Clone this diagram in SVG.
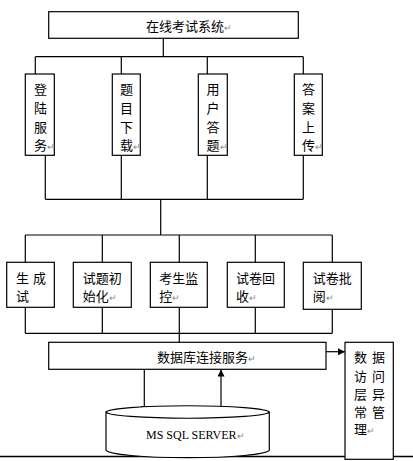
<svg xmlns="http://www.w3.org/2000/svg" width="413" height="461" viewBox="0 0 413 461">
<style>
.box{fill:#fff;stroke:#000;stroke-width:1.2}
.ln{fill:none;stroke:#000;stroke-width:1.2}
.t{font-family:"Noto Sans CJK SC","Noto Sans",sans-serif;font-size:13px;fill:#000}
.s{font-family:"Liberation Serif",serif;font-size:12px;fill:#000}
.r{fill:#888;font-size:9px}
</style>
<defs>
<marker id="ah" viewBox="0 0 10 10" refX="10" refY="5" markerWidth="7" markerHeight="7" markerUnits="userSpaceOnUse" orient="auto">
<path d="M0,0 L10,5 L0,10 Z" fill="#000"/>
</marker>
</defs>
<rect width="413" height="461" fill="#fff"/>
<g id="connectors">
<path class="ln" d="M163.3,38.3 V56.7 M35.3,56.7 H303.3 M35.3,56.7 V74 M121.3,56.7 V74 M207.3,56.7 V74 M303.3,56.7 V74"/>
<path class="ln" d="M45.3,155.3 V199.3 M121.3,155.3 V199.3 M207.3,155.3 V199.3 M303.3,155.3 V199.3 M45.3,199.3 H303.3 M160.7,199.3 V235"/>
<path class="ln" d="M25.3,235 H332.3 M25.3,235 V262.3 M102.3,235 V262.3 M179.3,235 V262.3 M255.3,235 V262.3 M332.3,235 V262.3"/>
<path class="ln" d="M25.3,307.3 V333.3 M102.3,307.3 V333.3 M179.3,307.3 V333.3 M255.3,307.3 V333.3 M332.3,309.3 V333.3 M25.3,333.3 H332.3 M179.3,333.3 V342.3"/>
<line class="ln" x1="326" y1="351.7" x2="345" y2="351.7" marker-end="url(#ah)"/>
<line class="ln" x1="144.3" y1="369.3" x2="144.3" y2="413" marker-end="url(#ah)"/>
<line class="ln" x1="221" y1="406" x2="221" y2="369.5" marker-end="url(#ah)"/>
<line x1="0" y1="456.5" x2="413" y2="456.5" stroke="#000" stroke-width="1.6"/>
</g>
<g id="top">
<rect class="box" x="48.7" y="11.7" width="249.6" height="26.6"/>
<text class="t" x="146" y="30.5">在线考试系统<tspan class="r">↵</tspan></text>
</g>
<g id="login">
<rect class="box" x="25.3" y="74" width="29" height="81.3"/>
<text class="t" x="34" y="94">登</text><text class="t" x="34" y="113">陆</text><text class="t" x="34" y="132">服</text><text class="t" x="34" y="150">务<tspan class="r">↵</tspan></text>
</g>
<g id="download">
<rect class="box" x="112.3" y="74" width="28" height="81.3"/>
<text class="t" x="120" y="94">题</text><text class="t" x="120" y="113">目</text><text class="t" x="120" y="132">下</text><text class="t" x="120" y="150">载<tspan class="r">↵</tspan></text>
</g>
<g id="answer">
<rect class="box" x="198.3" y="74" width="29" height="81.3"/>
<text class="t" x="206.5" y="94">用</text><text class="t" x="206.5" y="113">户</text><text class="t" x="206.5" y="132">答</text><text class="t" x="206.5" y="150">题<tspan class="r">↵</tspan></text>
</g>
<g id="upload">
<rect class="box" x="294.3" y="74" width="28" height="81.3"/>
<text class="t" x="302" y="94">答</text><text class="t" x="302" y="113">案</text><text class="t" x="302" y="132">上</text><text class="t" x="302" y="150">传<tspan class="r">↵</tspan></text>
</g>
<g id="gen">
<rect class="box" x="6.7" y="262.3" width="47.6" height="45"/>
<text class="t" x="16" y="282.5">生</text><text class="t" x="33" y="282.5">成</text>
<text class="t" x="16" y="301">试</text>
</g>
<g id="init">
<rect class="box" x="73.3" y="262.3" width="58" height="45"/>
<text class="t" x="82.7" y="282.5">试题初</text>
<text class="t" x="82.7" y="301">始化<tspan class="r">↵</tspan></text>
</g>
<g id="monitor">
<rect class="box" x="150.3" y="262.3" width="57" height="45"/>
<text class="t" x="159.3" y="282.5">考生监</text>
<text class="t" x="159.3" y="301">控<tspan class="r">↵</tspan></text>
</g>
<g id="collect">
<rect class="box" x="227.3" y="262.3" width="57" height="45"/>
<text class="t" x="236" y="282.5">试卷回</text>
<text class="t" x="236" y="301">收<tspan class="r">↵</tspan></text>
</g>
<g id="review">
<rect class="box" x="303.3" y="262.3" width="58" height="47"/>
<text class="t" x="312.7" y="282.5">试卷批</text>
<text class="t" x="312.7" y="301">阅<tspan class="r">↵</tspan></text>
</g>
<g id="dbconn">
<rect class="box" x="48.7" y="342.3" width="277.3" height="27"/>
<text class="t" x="157" y="361.5">数据库连接服务<tspan class="r">↵</tspan></text>
</g>
<g id="exception">
<rect class="box" x="345" y="342.3" width="48.3" height="117"/>
<text class="t" x="354" y="361.7">数</text><text class="t" x="372" y="361.7">据</text>
<text class="t" x="354" y="380.7">访</text><text class="t" x="372" y="380.7">问</text>
<text class="t" x="354" y="399">层</text><text class="t" x="372" y="399">异</text>
<text class="t" x="354" y="416.7">常</text><text class="t" x="372" y="416.7">管</text>
<text class="t" x="354" y="434">理<tspan class="r">↵</tspan></text>
</g>
<g id="db">
<path class="box" d="M106,412 V450 A81.7,8 0 0 0 269.3,450 V412 A81.7,6.5 0 0 0 106,412 Z"/>
<path class="ln" d="M106,412 A81.7,6.5 0 0 0 269.3,412"/>
<text class="s" x="146" y="438.5">MS SQL SERVER<tspan class="r">↵</tspan></text>
</g>
</svg>
